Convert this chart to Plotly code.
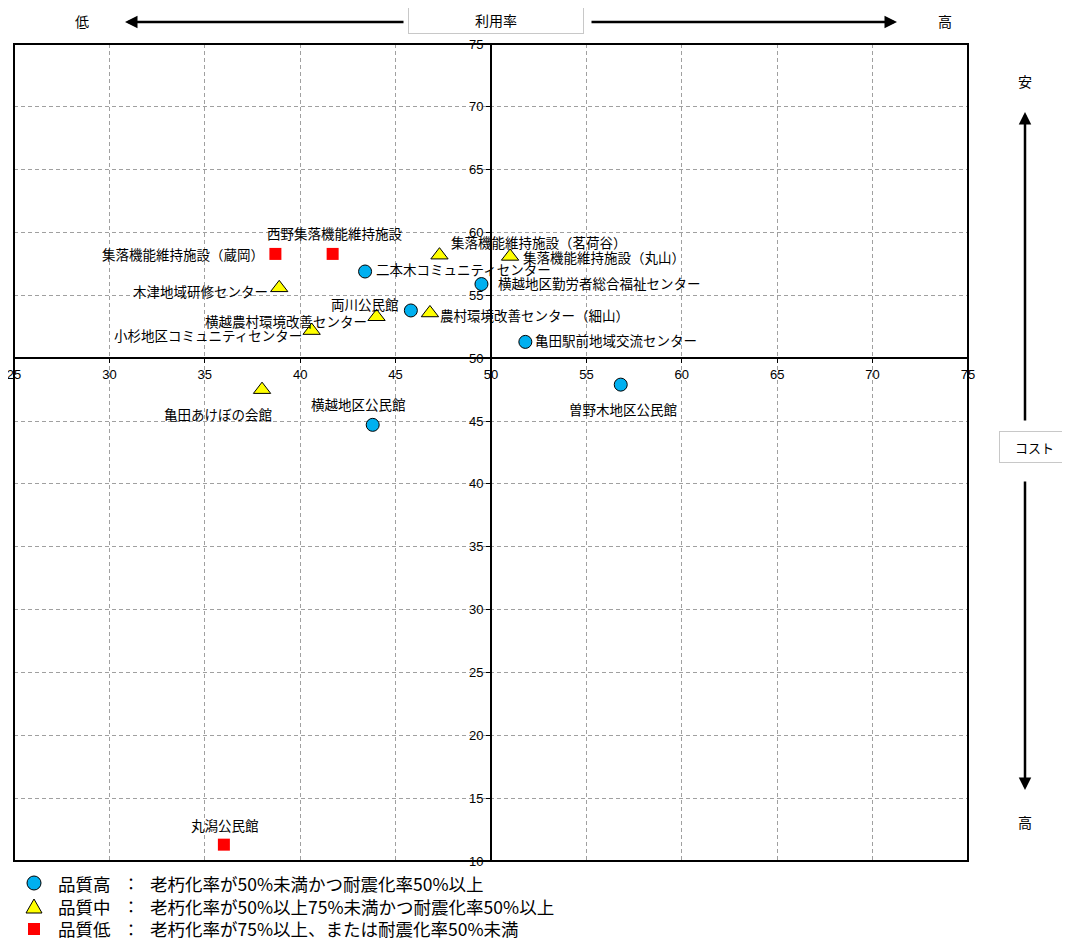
import plotly.graph_objects as go

# ---- data ----
high_names = ["二本木コミュニティセンター", "両川公民館", "横越地区勤労者総合福祉センター",
              "亀田駅前地域交流センター", "曽野木地区公民館", "横越地区公民館"]
high_x = [43.4, 45.8, 49.5, 51.8, 56.8, 43.8]
high_y = [56.9, 53.8, 55.9, 51.3, 47.9, 44.7]

mid_names = ["集落機能維持施設（茗荷谷）", "集落機能維持施設（丸山）", "木津地域研修センター",
             "横越農村環境改善センター", "農村環境改善センター（細山）", "小杉地区コミュニティセンター",
             "亀田あけぼの会館"]
mid_x = [47.3, 51.0, 38.9, 44.0, 46.8, 40.6, 38.0]
mid_y = [58.2, 58.1, 55.6, 53.3, 53.6, 52.2, 47.5]

low_names = ["集落機能維持施設（蔵岡）", "西野集落機能維持施設", "丸潟公民館"]
low_x = [38.7, 41.7, 36.0]
low_y = [58.3, 58.3, 11.3]

legend_titles = ["品質高", "品質中", "品質低"]
legend_descs = ["老朽化率が50%未満かつ耐震化率50%以上",
                "老朽化率が50%以上75%未満かつ耐震化率50%以上",
                "老朽化率が75%以上、または耐震化率50%未満"]

x_ticks = list(range(25, 80, 5))
y_ticks = list(range(10, 80, 5))

# ---- label placement (anchor, x shift px, y shift px) ----
placement = {
    "集落機能維持施設（蔵岡）": ("right", -9, 0),
    "西野集落機能維持施設": ("center", 2, 21),
    "丸潟公民館": ("center", 1, 20),
    "二本木コミュニティセンター": ("left", 9, 3),
    "両川公民館": ("right", -10, 6),
    "横越地区勤労者総合福祉センター": ("left", 15, 1),
    "亀田駅前地域交流センター": ("left", 8, 2),
    "曽野木地区公民館": ("center", 2, -24),
    "横越地区公民館": ("center", -14, 21),
    "集落機能維持施設（茗荷谷）": ("left", 10, 13),
    "集落機能維持施設（丸山）": ("left", 11, -1),
    "木津地域研修センター": ("right", -9, -3),
    "横越農村環境改善センター": ("right", -8, -4),
    "農村環境改善センター（細山）": ("left", 8, -2),
    "小杉地区コミュニティセンター": ("right", -8, -4),
    "亀田あけぼの会館": ("center", -44, -24),
}

FONT = "Noto Sans CJK JP"
TICKFONT = "Liberation Sans Narrow, Liberation Sans, Arial"
C_HIGH, C_MID, C_LOW = "#00B0F0", "#FFFF00", "#FF0000"

fig = go.Figure()
fig.add_trace(go.Scatter(x=high_x, y=high_y, mode="markers", name=legend_titles[0],
                         marker=dict(symbol="circle", size=13, color=C_HIGH,
                                     line=dict(color="black", width=1))))
fig.add_trace(go.Scatter(x=mid_x, y=mid_y, mode="markers", name=legend_titles[1],
                         marker=dict(symbol="triangle-up", size=15, color=C_MID,
                                     line=dict(color="black", width=1))))
fig.add_trace(go.Scatter(x=low_x, y=low_y, mode="markers", name=legend_titles[2],
                         marker=dict(symbol="square", size=12, color=C_LOW,
                                     line=dict(color=C_LOW, width=0))))

annotations = []
for names, xs, ys in [(high_names, high_x, high_y), (mid_names, mid_x, mid_y), (low_names, low_x, low_y)]:
    for n, xv, yv in zip(names, xs, ys):
        anc, dx, dy = placement[n]
        annotations.append(dict(x=xv, y=yv, xref="x", yref="y", text=n, showarrow=False,
                                xanchor=anc, yanchor="middle", xshift=dx, yshift=dy,
                                font=dict(family=FONT, size=13.5, color="black")))

# page body has an 8px margin; work in page pixels and compensate
OFF = 8
PAGE_W, PAGE_H = 1070, 942
L, R, T, B = 14, 968, 44, 861   # plot area in page pixels
W, H = R - L, B - T
def px(xp):
    return (xp - L) / W
def py(yp):
    return (B - yp) / H

arrow = dict(showarrow=True, arrowhead=2, arrowsize=1, arrowwidth=2.5, arrowcolor="black",
             xref="paper", yref="paper", axref="pixel", ayref="pixel", text="")
def label(xp, yp, text, size=14, xanchor="center", **kw):
    return dict(x=px(xp), y=py(yp), xref="paper", yref="paper", text=text, showarrow=False,
                xanchor=xanchor, yanchor="middle",
                font=dict(family=FONT, size=size, color="black"), **kw)

annotations += [
    dict(arrow, x=px(125), y=py(22), ax=280, ay=0),
    dict(arrow, x=px(897), y=py(22), ax=-307, ay=0),
    dict(arrow, x=px(1025), y=py(112), ax=0, ay=310),
    dict(arrow, x=px(1025), y=py(790), ax=0, ay=-310),
    label(82, 21, "低"),
    label(945, 21, "高"),
    label(1025, 81, "安"),
    label(1025, 822, "高"),
    label(496, 20, "利用率", width=172, height=24, bgcolor="white",
          bordercolor="#C8C8C8", borderwidth=1),
    label(1034, 447, "コスト", size=13, width=67, height=28, bgcolor="white",
          bordercolor="#C8C8C8", borderwidth=1),
]

# ---- custom legend (key symbols + texts) ----
legend_rows = [883, 906, 929]
for row, title, desc in zip(legend_rows, legend_titles, legend_descs):
    annotations.append(label(57, row, title, size=17.5, xanchor="left", borderpad=0))
    annotations.append(label(131, row, "：", size=16, borderpad=0))
    annotations.append(label(149, row, desc, size=17.5, xanchor="left", borderpad=0))

shapes = [dict(type="rect", xref="paper", yref="paper", x0=0, y0=0, x1=1, y1=1,
               line=dict(color="black", width=2), layer="above")]
r0, r1, r2 = legend_rows
shapes += [
    dict(type="circle", xref="paper", yref="paper", x0=px(27), x1=px(41), y0=py(r0 + 7), y1=py(r0 - 7),
         fillcolor=C_HIGH, line=dict(color="black", width=1)),
    dict(type="path", xref="paper", yref="paper",
         path=f"M {px(26)},{py(r1 + 7)} L {px(42)},{py(r1 + 7)} L {px(34)},{py(r1 - 7)} Z",
         fillcolor=C_MID, line=dict(color="black", width=1)),
    dict(type="rect", xref="paper", yref="paper", x0=px(28), x1=px(40), y0=py(r2 + 6), y1=py(r2 - 6),
         fillcolor=C_LOW, line=dict(width=0)),
]

fig.update_layout(
    width=PAGE_W - OFF, height=PAGE_H - OFF,
    margin=dict(l=L - OFF, r=PAGE_W - R, t=T - OFF, b=PAGE_H - B, autoexpand=False),
    paper_bgcolor="white", plot_bgcolor="white",
    font=dict(family=FONT, size=12, color="black"),
    showlegend=False,
    annotations=annotations,
    shapes=shapes,
    xaxis=dict(range=[25, 75], tickvals=x_ticks, anchor="free", position=40 / 65,
               showline=True, linecolor="black", linewidth=2,
               showgrid=True, gridcolor="#A0A0A0", griddash="4px,3px", gridwidth=1,
               zeroline=False, ticks="outside", ticklen=4, tickcolor="black",
               ticklabeloverflow="allow",
               tickfont=dict(family=TICKFONT, size=13, color="black")),
    yaxis=dict(range=[10, 75], tickvals=y_ticks, anchor="free", position=0.5,
               showline=True, linecolor="black", linewidth=2,
               showgrid=True, gridcolor="#A0A0A0", griddash="4px,3px", gridwidth=1,
               zeroline=False, ticks="outside", ticklen=4, tickcolor="black",
               ticklabeloverflow="allow",
               tickfont=dict(family=TICKFONT, size=13, color="black")),
)

fig.write_html("out.html")
